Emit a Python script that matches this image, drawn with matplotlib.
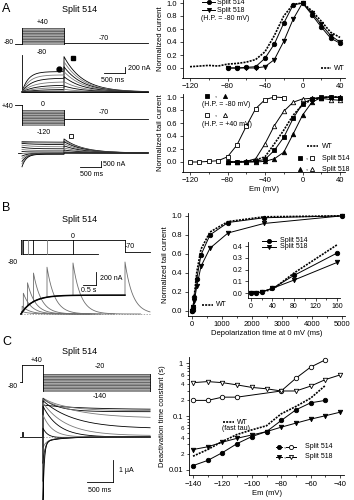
import numpy as np
import matplotlib
matplotlib.use('Agg')
import matplotlib.pyplot as plt
from matplotlib.lines import Line2D
from matplotlib.ticker import FixedLocator, FuncFormatter, MultipleLocator

plt.rcParams['font.family'] = ['Liberation Sans', 'DejaVu Sans']
plt.rcParams['font.size'] = 5.5

W, H = 354, 500

# ---------------- data: right-hand plots ----------------
# A top: normalized current vs Em (H.P. = -80 mV)
act_em = [-80, -70, -60, -50, -40, -30, -20, -10, 0, 10, 20, 30, 40]
act_514 = [0.0, 0.0, 0.01, 0.02, 0.15, 0.37, 0.69, 0.97, 1.0, 0.82, 0.63, 0.46, 0.38]
act_518 = [0.0, 0.0, 0.0, 0.0, 0.02, 0.13, 0.41, 0.75, 1.0, 0.85, 0.67, 0.5, 0.4]
act_wt_em = [-120, -110, -100, -90, -80, -70, -60, -50, -40, -30, -20, -10, 0, 10, 20, 30, 40]
act_wt = [0.02, 0.03, 0.04, 0.03, 0.06, 0.07, 0.09, 0.13, 0.25, 0.5, 0.8, 0.98, 1.0, 0.88, 0.72, 0.55, 0.47]

# A bottom: normalized tail current vs Em
tail_em = [-80, -70, -60, -50, -40, -30, -20, -10, 0, 10, 20, 30, 40]
tail_514_hp80 = [0.0, 0.0, 0.0, 0.01, 0.04, 0.18, 0.38, 0.67, 0.9, 0.97, 1.0, 1.0, 0.99]
tail_518_hp80 = [0.0, 0.0, 0.0, 0.0, 0.01, 0.05, 0.15, 0.43, 0.72, 0.92, 0.99, 1.0, 1.0]
tail_wt = [0.0, 0.0, 0.01, 0.03, 0.08, 0.28, 0.49, 0.72, 0.88, 0.96, 0.99, 1.0, 1.0]
tail_518_hp40 = [0.0, 0.0, 0.01, 0.05, 0.28, 0.56, 0.78, 0.92, 0.97, 0.98, 0.98, 0.96, 0.95]
tail_514_hp40_em = [-120, -110, -100, -90, -80, -70, -60, -50, -40, -30, -20]
tail_514_hp40 = [0.0, 0.0, 0.01, 0.02, 0.08, 0.26, 0.55, 0.82, 0.96, 1.0, 0.99]

# B: normalized tail current vs depolarization time at 0 mV
dep_time = [0, 10, 20, 40, 80, 160, 300, 600, 1200, 2400, 5000]
dep_514 = [0.0, 0.0, 0.01, 0.04, 0.15, 0.34, 0.59, 0.8, 0.93, 0.98, 1.0]
dep_518 = [0.0, 0.0, 0.01, 0.04, 0.11, 0.26, 0.47, 0.66, 0.82, 0.92, 1.0]
dep_wt = [0.0, 0.0, 0.01, 0.03, 0.17, 0.41, 0.65, 0.83, 0.94, 0.99, 1.0]
inset_n = 6   # first points shown in the inset (0-160 ms)

# C: deactivation time constants (s)
deact_em = [-140, -130, -120, -110, -100, -90, -80, -70, -60, -50, -40]
deact_514_fast = [0.012, 0.015, 0.021, 0.031, 0.042, 0.052, 0.084, 0.133, 0.18, 0.2]
deact_514_slow_em = [-140, -130, -120, -110, -80, -70, -60, -50]
deact_514_slow = [0.2, 0.2, 0.23, 0.23, 0.3, 0.52, 0.84, 1.15]
deact_518_fast = [0.024, 0.027, 0.033, 0.039, 0.045, 0.052, 0.063, 0.075, 0.089, 0.103, 0.12]
deact_518_slow = [0.43, 0.45, 0.43, 0.39, 0.35, 0.33, 0.3, 0.3, 0.37, 0.49, 0.6]
deact_wt = [0.018, 0.024, 0.034, 0.046, 0.056, 0.067, 0.112, 0.154, 0.22, 0.38]

# ---------------- data: left-hand sketches ----------------
# A top: step -80..+40 for 1 s, tail at -70 for 2 s (currents in nA)
a1_levels = [40, 30, 20, 10, 0, -10, -20, -30, -40, -50, -60, -70, -80]
a1_step_ss = [680, 570, 460, 340, 230, 160, 90, 45, 10, 0, 0, 0, 0]
a1_tau_act = [150, 180, 220, 260, 300, 350, 400, 450, 500, 500, 500, 500, 500]
a1_tail_pk = [1180, 1010, 840, 680, 510, 340, 200, 90, 10, 0, 0, 0, 0]
a1_tau_tail = 450
a1_cap = 1250
a1_mark_circle = (880, 760)
a1_mark_square = (1210, 1150)

# A bottom: H.P. +40, step 0..-120 for 1 s, tail at -70
a2_levels = [0, -10, -20, -30, -40, -50, -60, -70, -80, -90, -100, -110, -120]
a2_i0 = [940, 880, 800, 650, 480, 300, 120, -50, -250, -450, -700, -900, -1150]
a2_iss = [900, 820, 700, 520, 350, 200, 80, 0, -20, -40, -60, -80, -100]
a2_tau = [400, 350, 300, 250, 200, 180, 160, 150, 140, 130, 120, 110, 100]
a2_tail0 = [1170, 1080, 950, 780, 600, 420, 250, 120, 50, 20, 0, 0, 0]
a2_tau_tail = 450
a2_mark_square = (1170, 1400)

# B: envelope of steps to 0 mV and tails after each duration
b_durations = [20, 45, 90, 250, 480, 1000, 2000, 4000]
b_tail_peak = [40, 120, 320, 480, 630, 720, 785, 800]
b_env_max = 290
b_env_tau = 450
b_tau_tail = 300
b_end = 4960

# C: +40 prepulse then steps -20..-140 (currents in nA)
c_levels = [-20, -30, -40, -50, -60, -70, -80, -90, -100, -110, -120, -130, -140]
c_i0 = [1450, 1770, 1750, 1700, 1650, 1550, 1400, 1000, 500, -300, -1000, -1800, -2700]
c_iss = [1250, 1200, 1150, 850, 380, 60, 0, 0, 0, 0, 0, 0, 0]
c_tau = [800, 400, 300, 700, 600, 450, 300, 180, 100, 60, 40, 30, 25]
c_slow = [0, 0, 0, 0, 0, 0, 0, 0, -100, -180, -200, -220, -240]
c_end = 2060
c_pre_t = [-440, -404, -404, -380, -380, 0]
c_pre_i = [0, 0, 250, 250, 0, 0]

fig = plt.figure(figsize=(W / 100, H / 100), dpi=100)


def box(l, t, r, b):
    return [l / W, 1 - b / H, (r - l) / W, (b - t) / H]


def sketch_axes(l, t, r, b, xpx, xval, xs, ypx, yval, ys):
    ax = fig.add_axes(box(l, t, r, b))
    ax.set_xlim(xval + (l - xpx) / xs, xval + (r - xpx) / xs)
    ax.set_ylim(yval - (b - ypx) / ys, yval - (t - ypx) / ys)
    ax.axis('off')
    return ax


def txt(x, y, s, size=5.5, ha='center', **kw):
    fig.text(x / W, 1 - y / H, s, ha=ha, va='center', fontsize=size, **kw)


def key(x0, x1, y, ls='-', lw=0.7, marker=None, mfc='k', ms=3):
    fig.add_artist(Line2D([x0 / W, x1 / W], [1 - y / H] * 2, color='k', lw=lw, ls=ls))
    if marker:
        fig.add_artist(Line2D([(x0 + x1) / 2 / W], [1 - y / H], marker=marker,
                              mfc=mfc, mec='k', mew=0.6, ms=ms, ls='none'))


def style(ax):
    for s in ['top', 'right']:
        ax.spines[s].set_visible(False)
    for s in ['left', 'bottom']:
        ax.spines[s].set_linewidth(0.6)
    ax.tick_params(which='both', direction='out', width=0.5, labelsize=5.5, pad=1.5)
    ax.tick_params(which='major', length=2.5)
    ax.tick_params(which='minor', length=1.5)
    ax.patch.set_alpha(0)


def step_box(ax, t0, t1, levels):
    ax.fill_between([t0, t1], min(levels), max(levels), color='#8c8c8c', lw=0)
    for j, v in enumerate(levels):
        ax.plot([t0, t1], [v, v], color='#555555' if j % 2 == 0 else '#b5b5b5', lw=0.45)
    ax.plot([t0, t0], [min(levels), max(levels)], color='k', lw=0.6)
    ax.plot([t1, t1], [min(levels), max(levels)], color='k', lw=0.6)


trace_cols = ['k', '#7a7a7a']
lw_tr = 0.6

# ======================= Panel A (left) =======================
txt(6, 9, 'A', size=9)
txt(80, 10, 'Split 514', size=6.5)

# protocol 1
p1 = sketch_axes(5, 18, 150, 56, 22, 0, 0.042, 28, 40, 0.1333)
p1.plot([-167, 0], [-80, -80], color='k', lw=0.6)
step_box(p1, 0, 1000, a1_levels)
p1.plot([1000, 3000], [-70, -70], color='k', lw=0.6)
txt(43, 22, '+40', size=5)
txt(9, 43, '-80', size=5)
txt(42, 52, '-80', size=5)
txt(104, 38, '-70', size=5)

# traces 1
tr1 = sketch_axes(5, 48, 150, 96, 22, 0, 0.042, 92, 0, 0.03)
t_step = np.linspace(0, 1000, 200)
t_tail = np.linspace(1000, 3000, 300)
tr1.plot([0, 0], [0, a1_cap], color='k', lw=0.6)
for i in range(len(a1_levels)):
    y_step = a1_step_ss[i] * (1 - np.exp(-t_step / a1_tau_act[i]))
    y_tail = a1_tail_pk[i] * np.exp(-(t_tail - 1000) / a1_tau_tail)
    tr1.plot(np.r_[t_step, t_tail], np.r_[y_step, y_tail], color=trace_cols[i % 2], lw=lw_tr)
tr1.plot(*a1_mark_circle, 'o', color='k', ms=3.5)
tr1.plot(*a1_mark_square, 's', color='k', ms=3.5)
tr1.plot([1950, 2450], [650, 650], color='k', lw=0.6)
tr1.plot([2450, 2450], [650, 850], color='k', lw=0.6)
txt(128, 69, '200 nA', size=5, ha='left')
txt(113, 80, '500 ms', size=5)

# protocol 2
p2 = sketch_axes(5, 100, 150, 130, 22, 0, 0.042, 110, 0, 0.125)
p2.plot([-167, 0], [40, 40], color='k', lw=0.6)
p2.plot([0, 0], [40, 0], color='k', lw=0.6)
step_box(p2, 0, 1000, a2_levels)
p2.plot([1000, 3000], [-70, -70], color='k', lw=0.6)
txt(8, 106, '+40', size=5)
txt(43, 105, '0', size=5)
txt(104, 113, '-70', size=5)
txt(44, 132, '-120', size=5)

# traces 2
tr2 = sketch_axes(5, 132, 150, 172, 22, 0, 0.042, 153, 0, 0.012)
tr2.plot([-100, 0], [0, 0], color='k', lw=lw_tr)
for i in range(len(a2_levels)):
    y_step = a2_iss[i] + (a2_i0[i] - a2_iss[i]) * np.exp(-t_step / a2_tau[i])
    y_tail = a2_tail0[i] * np.exp(-(t_tail - 1000) / a2_tau_tail)
    tr2.plot(np.r_[t_step, t_tail], np.r_[y_step, y_tail], color=trace_cols[i % 2], lw=lw_tr)
tr2.plot(*a2_mark_square, 's', mfc='white', mec='k', mew=0.6, ms=3.5)
tr2.plot([1380, 1880], [-1170, -1170], color='k', lw=0.6)
tr2.plot([1880, 1880], [-1170, -670], color='k', lw=0.6)
txt(103, 164, '500 nA', size=5, ha='left')
txt(92, 174, '500 ms', size=5)

# ======================= Panel B (left) =======================
txt(6, 208, 'B', size=9)
txt(80, 220, 'Split 514', size=6.5)

pb = sketch_axes(5, 230, 152, 262, 21, 0, 0.026, 240, 0, 0.175)
pb.plot([0, 0], [-80, 0], color='k', lw=0.6)
pb.plot([0, b_durations[-1]], [0, 0], color='k', lw=0.6)
pb.plot([0, 2960], [-80, -80], color='k', lw=0.6)
for i, d in enumerate(b_durations[:-1]):
    pb.plot([d, d], [-80, 0], color=trace_cols[i % 2], lw=0.6)
pb.plot([b_durations[-1]] * 2, [0, -70], color='k', lw=0.6)
pb.plot([b_durations[-1], b_end], [-70, -70], color='k', lw=0.6)
txt(73, 236, '0', size=5)
txt(130, 247, '-70', size=5)
txt(13, 262, '-80', size=5)

tb = sketch_axes(5, 255, 152, 318, 21, 0, 0.026, 314, 0, 0.065)
tb.plot([0, b_end], [0, 0], color='#888888', lw=0.5, ls=(0, (2, 2)))
for i, d in enumerate(b_durations):
    t_on = np.linspace(0, d, 100)
    t_off = np.linspace(d, min(d + 2600, b_end), 200)
    y_on = b_env_max * (1 - np.exp(-t_on / b_env_tau))
    y_off = b_tail_peak[i] * np.exp(-(t_off - d) / b_tau_tail)
    tb.plot(np.r_[t_on, t_off], np.r_[y_on, y_off], color='#6e6e6e', lw=0.6)
t_env = np.linspace(0, b_durations[-1], 400)
tb.plot(t_env, b_env_max * (1 - np.exp(-t_env / b_env_tau)), color='k', lw=1.1)
tb.plot([2385, 2885], [446, 446], color='k', lw=0.6)
tb.plot([2885, 2885], [446, 646], color='k', lw=0.6)
txt(100, 278, '200 nA', size=5, ha='left')
txt(89, 291, '0.5 s', size=5)

# ======================= Panel C (left) =======================
txt(7, 342, 'C', size=9)
txt(80, 352, 'Split 514', size=6.5)

pc = sketch_axes(5, 358, 152, 395, 43, 0, 0.052, 365, 40, 0.142)
pc.plot([-442, -404], [-80, -80], color='k', lw=0.6)
pc.plot([-404, -404], [-80, 40], color='k', lw=0.6)
pc.plot([-404, 0], [40, 40], color='k', lw=0.6)
pc.plot([0, 0], [40, -20], color='k', lw=0.6)
step_box(pc, 0, c_end, c_levels)
txt(37, 360, '+40', size=5)
txt(13, 386, '-80', size=5)
txt(100, 367, '-20', size=5)
txt(100, 397, '-140', size=5)

tc = sketch_axes(5, 395, 152, 500, 43, 0, 0.052, 437, 0, 0.022)
tc.plot([0, c_end], [0, 0], color='#888888', lw=0.5, ls=(0, (2, 2)))
tc.plot(c_pre_t, c_pre_i, color='k', lw=0.6)
t_c = np.linspace(0, c_end, 500)
for i in range(len(c_levels)):
    y = c_iss[i] + (c_i0[i] - c_iss[i]) * np.exp(-t_c / c_tau[i]) + c_slow[i] * np.exp(-t_c / 300)
    tc.plot(np.r_[0, t_c], np.r_[0, y], color=trace_cols[i % 2], lw=lw_tr)
tc.plot([846, 1346], [-2045, -2045], color='k', lw=0.6)
tc.plot([1346, 1346], [-2045, -1045], color='k', lw=0.6)
txt(119, 470, '1 \u00b5A', size=5, ha='left')
txt(100, 491, '500 ms', size=5)

# ======================= Right-hand plots =======================
wt_ls = (0, (1.2, 0.7))
mk = dict(ms=3.2, mew=0.6, mec='k', lw=0.7, color='k')

# A top
a1 = fig.add_axes(box(182.5, 0.4, 344.7, 77.75))
style(a1)
a1.plot(act_wt_em, act_wt, color='k', lw=1.2, ls=wt_ls)
a1.plot(act_em, act_514, marker='o', **mk)
a1.plot(act_em, act_518, marker='v', **mk)
a1.set_xlim(-128, 45)
a1.set_ylim(-0.15, 1.04)
a1.set_xticks([-120, -80, -40, 0, 40])
a1.xaxis.set_minor_locator(FixedLocator([-100, -60, -20, 20]))
a1.set_yticks([0, 0.2, 0.4, 0.6, 0.8, 1.0])
a1.yaxis.set_major_formatter(FuncFormatter(lambda v, p: f'{v:.1f}'))
a1.set_ylabel('Normalized current', fontsize=5.5, labelpad=2)
key(202, 215, 2, marker='o')
txt(217, 2, 'Split 514', size=5, ha='left')
key(202, 215, 10, marker='v')
txt(217, 10, 'Split 518', size=5, ha='left')
txt(201, 18, '(H.P. = -80 mV)', size=5, ha='left')
key(321, 331, 68, lw=1.2, ls=wt_ls)
txt(334, 68, 'WT', size=5, ha='left')

# A bottom
a2 = fig.add_axes(box(182.5, 93.75, 344.7, 171.75))
style(a2)
a2.plot(tail_em, tail_wt, color='k', lw=1.2, ls=wt_ls)
a2.plot(tail_514_hp40_em, tail_514_hp40, marker='s', mfc='white', **mk)
a2.plot(tail_em, tail_518_hp40, marker='^', mfc='white', **mk)
a2.plot(tail_em, tail_514_hp80, marker='s', **mk)
a2.plot(tail_em, tail_518_hp80, marker='^', **mk)
a2.set_xlim(-128, 45)
a2.set_ylim(-0.15, 1.05)
a2.set_xticks([-120, -80, -40, 0, 40])
a2.xaxis.set_minor_locator(FixedLocator([-100, -60, -20, 20]))
a2.set_yticks([0, 0.2, 0.4, 0.6, 0.8, 1.0])
a2.yaxis.set_major_formatter(FuncFormatter(lambda v, p: f'{v:.1f}'))
a2.set_ylabel('Normalized tail current', fontsize=5.5, labelpad=2)
a2.set_xlabel('Em (mV)', fontsize=5.5, labelpad=1.5)
key(205, 209, 96, lw=0, marker='s')
txt(215, 96, ',', size=5)
key(223, 227, 96, lw=0, marker='^')
txt(202, 105, '(H.P. = -80 mV)', size=5, ha='left')
key(205, 209, 115, lw=0, marker='s', mfc='white')
txt(215, 115, ',', size=5)
key(223, 227, 115, lw=0, marker='^', mfc='white')
txt(202, 124, '(H.P. = +40 mV)', size=5, ha='left')
key(307, 318, 146, lw=1.2, ls=wt_ls)
txt(322, 146, 'WT', size=5, ha='left')
key(298, 302, 158, lw=0, marker='s')
txt(306, 158, ',', size=5)
key(310, 314, 158, lw=0, marker='s', mfc='white')
txt(322, 158, 'Split 514', size=5, ha='left')
key(298, 302, 169, lw=0, marker='^')
txt(306, 169, ',', size=5)
key(310, 314, 169, lw=0, marker='^', mfc='white')
txt(322, 169, 'Split 518', size=5, ha='left')

# B main
b1 = fig.add_axes(box(187.5, 213, 345, 315.75))
style(b1)
b1.plot(dep_time, dep_wt, color='k', lw=1.2, ls=wt_ls)
b1.plot(dep_time, dep_514, marker='o', **mk)
b1.plot(dep_time, dep_518, marker='v', **mk)
b1.set_xlim(-150, 5100)
b1.set_ylim(-0.05, 1.03)
b1.set_xticks(range(0, 5001, 1000))
b1.xaxis.set_minor_locator(MultipleLocator(500))
b1.set_yticks([0, 0.2, 0.4, 0.6, 0.8, 1.0])
b1.yaxis.set_major_formatter(FuncFormatter(lambda v, p: f'{v:.1f}'))
b1.set_ylabel('Normalized tail current', fontsize=5.5, labelpad=2)
b1.set_xlabel('Depolarization time at 0 mV (ms)', fontsize=5.5, labelpad=1.5)
key(202, 213, 305, lw=1.2, ls=wt_ls)
txt(216, 305, 'WT', size=5, ha='left')

# B inset
b2 = fig.add_axes(box(248.3, 242.5, 339.7, 297.7))
style(b2)
b2.tick_params(labelsize=5)
b2.plot(dep_time[:inset_n], dep_wt[:inset_n], color='k', lw=1.2, ls=wt_ls)
b2.plot(dep_time[:inset_n], dep_514[:inset_n], marker='o', **mk)
b2.plot(dep_time[:inset_n], dep_518[:inset_n], marker='v', **mk)
b2.set_xlim(-5, 165)
b2.set_ylim(-0.04, 0.43)
b2.set_xticks([0, 40, 80, 120, 160])
b2.xaxis.set_minor_locator(MultipleLocator(20))
b2.set_yticks([0, 0.1, 0.2, 0.3, 0.4])
b2.yaxis.set_major_formatter(FuncFormatter(lambda v, p: f'{v:.1f}'))
key(262, 276, 241, marker='o')
txt(280, 241, 'Split 514', size=5, ha='left')
key(262, 276, 247, marker='v')
txt(280, 247, 'Split 518', size=5, ha='left')

# C
c1 = fig.add_axes(box(188.6, 357, 344.4, 475))
style(c1)
c1.set_yscale('log')
c1.plot(deact_em[:10], deact_wt, color='k', lw=1.2, ls=wt_ls)
c1.plot(deact_514_slow_em, deact_514_slow, marker='o', mfc='white', **mk)
c1.plot(deact_em, deact_518_slow, marker='v', mfc='white', **mk)
c1.plot(deact_em[:10], deact_514_fast, marker='o', **mk)
c1.plot(deact_em, deact_518_fast, marker='v', **mk)
c1.set_xlim(-143, -37)
c1.set_ylim(0.008, 1.3)
c1.set_xticks(range(-140, -39, 20))
c1.xaxis.set_minor_locator(MultipleLocator(10))
c1.yaxis.set_major_locator(FixedLocator([0.01, 0.1, 1]))
c1.yaxis.set_major_formatter(FuncFormatter(lambda v, p: f'{v:g}'))
c1.yaxis.set_minor_locator(FixedLocator([m * d for d in (0.01, 0.1) for m in range(2, 10)]))


def minor_fmt(v, p):
    m = int(round(v / 10 ** np.floor(np.log10(v) + 1e-9)))
    return str(m) if m in (2, 4, 6) else ''


c1.yaxis.set_minor_formatter(FuncFormatter(minor_fmt))
c1.tick_params(axis='y', which='minor', labelsize=4.5)
c1.set_ylabel('Deactivation time constant (s)', fontsize=5.5, labelpad=2)
c1.set_xlabel('Em (mV)', fontsize=5.5, labelpad=1.5)
key(223, 234, 422, lw=1.2, ls=wt_ls)
txt(237, 422, 'WT', size=5, ha='left')
txt(236, 429, '(fast tau)', size=5)
key(276, 282, 447, lw=0.7, marker='o', ms=3)
txt(284, 447, ',', size=5)
key(286, 296, 447, lw=0.7, marker='o', mfc='white', ms=3)
txt(305, 447, 'Split 514', size=5, ha='left')
key(276, 282, 457, lw=0.7, marker='v', ms=3)
txt(284, 457, ',', size=5)
key(286, 296, 457, lw=0.7, marker='v', mfc='white', ms=3)
txt(305, 457, 'Split 518', size=5, ha='left')

fig.savefig('out.png', dpi=100)
